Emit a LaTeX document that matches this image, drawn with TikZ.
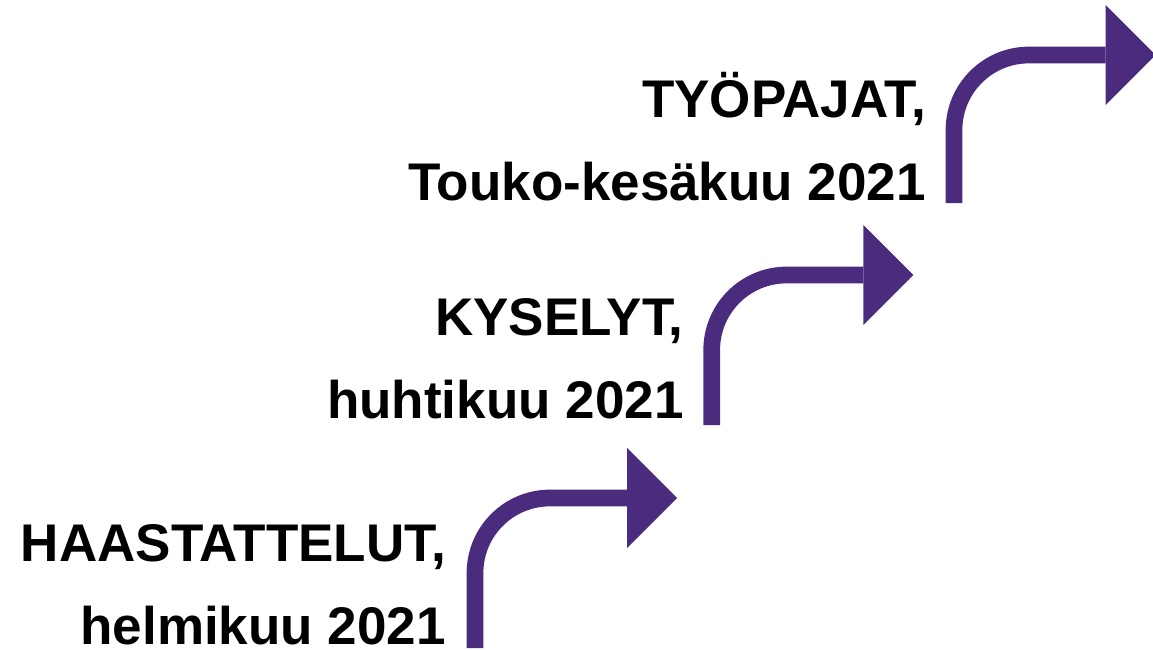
\documentclass[tikz,border=0pt]{standalone}
\usepackage{fontspec}
\setmainfont{Liberation Sans}
\usetikzlibrary{arrows.meta}
\usetikzlibrary{positioning}
\definecolor{stairpurple}{RGB}{75,43,126}
\tikzset{stair/.style={draw=stairpurple,line width=16.7pt,rounded corners=75pt,-{Triangle[length=50pt,width=100pt,line width=0pt,sharp]}}}
\tikzset{phase/.style={align=right,inner sep=0pt,font=\bfseries\fontsize{53}{83}\selectfont}}

\begin{document}
\begin{tikzpicture}[x=1pt,y=-1pt]
\useasboundingbox (0,0) rectangle (1153,650);
\clip (0,0) rectangle (1153,650);

\coordinate (s1) at (475,648);
\coordinate (e1) at (677,498);
\coordinate (s2) at (711.7,425);
\coordinate (e2) at (913.3,275);
\coordinate (s3) at (954,203);
\coordinate (e3) at (1155.7,55);

\node[phase, left=29pt of s1, anchor=base east, yshift=4pt] (t1) {HAASTATTELUT,\\helmikuu 2021};
\node[phase, left=28pt of s2, anchor=base east, yshift=7pt] (t2) {KYSELYT,\\huhtikuu 2021};
\node[phase, left=28pt of s3, anchor=base east, yshift=3pt] (t3) {TYÖPAJAT,\\Touko-kesäkuu 2021};

\draw[stair] (s1) |- (e1);
\draw[stair] (s2) |- (e2);
\draw[stair] (s3) |- (e3);
\end{tikzpicture}
\end{document}
